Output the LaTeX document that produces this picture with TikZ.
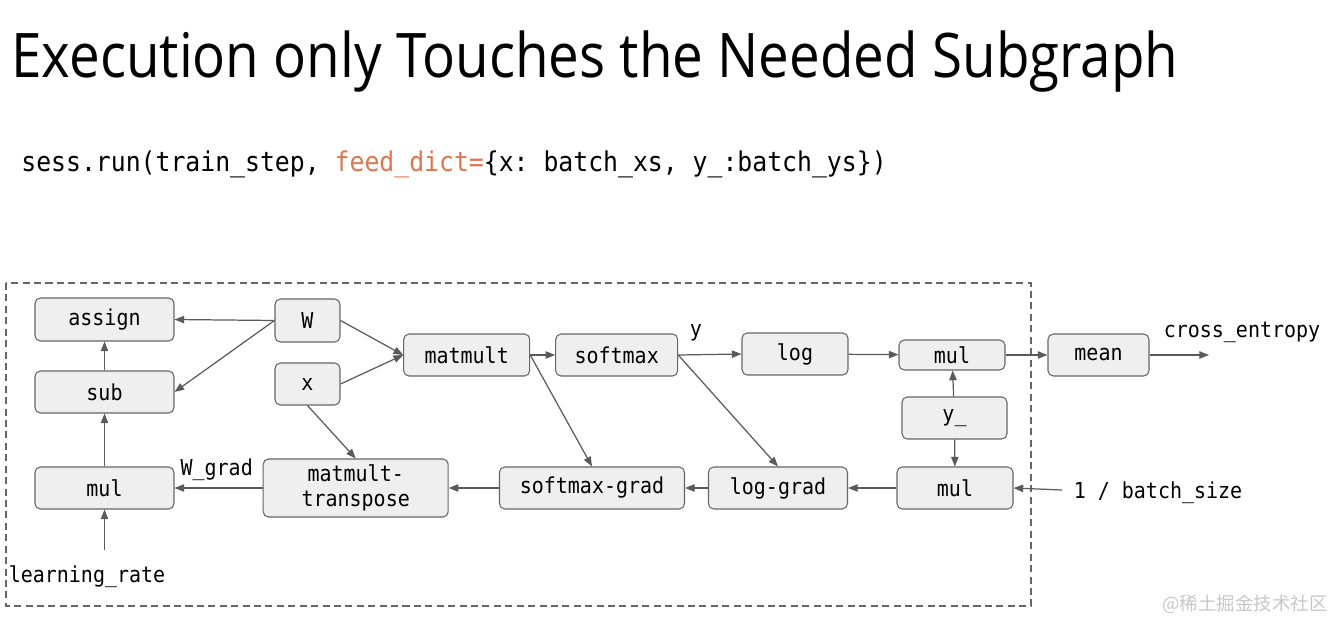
\documentclass[tikz,border=0pt]{standalone}
\usepackage{fontspec}
\setmainfont{Open Sans}
\setmonofont[FakeStretch=0.91]{DejaVu Sans Mono}
\newfontfamily\titlefont[FakeStretch=0.89]{Open Sans}
\newfontfamily\cjkfont{Noto Sans CJK SC}
\usepackage{tikz}
\usetikzlibrary{arrows.meta}
\definecolor{boxfill}{HTML}{EFEFEF}
\definecolor{boxline}{HTML}{666666}
\definecolor{edgegray}{HTML}{5A5A5A}
\definecolor{codeorange}{HTML}{E0764E}
\tikzstyle{op} = [draw=boxline, fill=boxfill, rounded corners=3pt,
   line width=0.6pt, inner sep=0pt, align=center,
   font=\fontsize{12.5}{14}\selectfont\ttfamily]
\tikzstyle{lbl} = [inner sep=0pt, font=\fontsize{12.5}{14}\selectfont\ttfamily]
\tikzstyle{flow} = [draw=edgegray, line width=0.7pt,
   -{Triangle[length=5.5pt,width=4.2pt]}]

\begin{document}
\begin{tikzpicture}[x=0.02cm,y=-0.02cm] % one unit = one pixel of the slide
  \useasboundingbox (0,0) rectangle (1332,621);
  \node[anchor=base west, inner sep=0pt, font=\titlefont\fontsize{35}{40}\selectfont]
    (title) at (11,78) {Execution only Touches the Needed Subgraph};
  \node[anchor=base west, inner sep=0pt, font=\fontsize{15.5}{18}\selectfont\ttfamily]
    (code) at (21,172) {sess.run(train\_step, \textcolor{codeorange}{feed\_dict=}\{x: batch\_xs, y\_:batch\_ys\})};
  \draw[draw=boxline, line width=0.6pt, dash pattern=on 4pt off 2.5pt] (6,283) rectangle (1031,606);
  % update side
  \node[op, minimum width=2.78cm, minimum height=0.86cm] (assign) at (104.5,319.5) {assign};
  \node[op, minimum width=2.78cm, minimum height=0.84cm] (sub) at (104.5,392) {sub};
  \node[op, minimum width=2.78cm, minimum height=0.84cm] (mul1) at (104.5,488) {mul};
  \node[op, minimum width=1.3cm, minimum height=0.86cm] (w) at (307.5,320.5) {W};
  \node[op, minimum width=1.3cm, minimum height=0.84cm] (x) at (307.5,384) {x};
  % forward
  \node[op, minimum width=2.52cm, minimum height=0.84cm] (mm) at (466.7,355) {matmult};
  \node[op, minimum width=2.44cm, minimum height=0.84cm] (sm) at (616.7,355) {softmax};
  \node[op, minimum width=2.12cm, minimum height=0.84cm] (log) at (795,354) {log};
  \node[op, minimum width=2.12cm, minimum height=0.6cm] (mul2) at (952,355) {mul};
  \node[op, minimum width=2.1cm, minimum height=0.84cm] (yy) at (954.5,418) {y\_};
  \node[op, minimum width=2.02cm, minimum height=0.84cm] (mean) at (1098.5,355) {mean};
  % backward
  \node[op, minimum width=3.7cm, minimum height=1.16cm] (mmt) at (355.7,488) {matmult-\\transpose};
  \node[op, minimum width=3.7cm, minimum height=0.84cm] (smg) at (592,488) {softmax-grad};
  \node[op, minimum width=2.78cm, minimum height=0.84cm] (lg) at (778,488) {log-grad};
  \node[op, minimum width=2.32cm, minimum height=0.84cm] (mul3) at (955,488) {mul};
  % labels and loose ends
  \node[lbl] (wgrad) at (216.7,470) {W\_grad};
  \node[lbl] (ylbl) at (696,333) {y};
  \node[lbl] (ce) at (1242,332) {cross\_entropy};
  \node[lbl] (bs) at (1158,493) {1 / batch\_size};
  \node[lbl] (lr) at (87,577) {learning\_rate};
  \coordinate (lrin) at (104.5,550);
  \coordinate (ceout) at (1209,355);
  \coordinate (bsin) at (1062,490);
  \draw[flow] (w.west) -- (assign.east);
  \draw[flow] (w.west) -- (sub.east);
  \draw[flow] (sub) -- (assign);
  \draw[flow] (mul1) -- (sub);
  \draw[flow] (lrin) -- (mul1);
  \draw[flow] (w.east) -- (mm.west);
  \draw[flow] (x.east) -- (mm.west);
  \draw[flow] (mm) -- (sm);
  \draw[flow] (mm.east) -- (smg.north);
  \draw[flow] (sm.east) -- (log.west);
  \draw[flow] (sm.east) -- (lg.north);
  \draw[flow] (log) -- (mul2);
  \draw[flow] (mul2) -- (mean);
  \draw[flow] (mean.east) -- (ceout);
  \draw[flow] (yy) -- (mul2);
  \draw[flow] (yy) -- (mul3);
  \draw[flow] (bsin) -- (mul3.east);
  \draw[flow] (mul3) -- (lg);
  \draw[flow] (lg) -- (smg);
  \draw[flow] (smg) -- (mmt);
  \draw[flow] (mmt) -- (mul1);
  \draw[flow] (x.south) -- (mmt.north);
  \node[font=\cjkfont\fontsize{10.5}{12}\selectfont, text=black!22] (wm) at (1245,604) {@稀土掘金技术社区};
\end{tikzpicture}
\end{document}
